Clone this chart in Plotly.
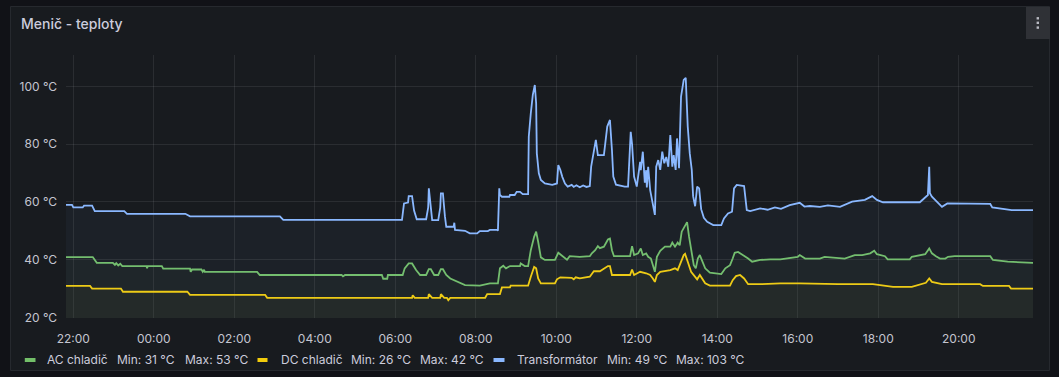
import pandas as pd
import plotly.graph_objects as go

# ---------------- data ----------------
BASE = pd.Timestamp("2024-05-14")
X_START = "2024-05-14 21:49:06"
X_END = "2024-05-15 21:50:42"

SERIES_NAMES = ["AC chladič", "DC chladič", "Transformátor"]
SERIES_COLORS = ["#73BF69", "#F2CC0C", "#8AB8FF"]
Y_TICKS = [20, 40, 60, 80, 100]
Y_TICK_TEXT = [f"{v} °C" for v in Y_TICKS]

AC_T = ["21:49", "22:29", "22:35", "22:59", "23:02", "23:04", "23:07", "23:10", "23:13", "23:49",
        "23:50", "23:51", "00:12", "00:14", "00:54", "00:55", "00:57", "01:11", "01:13", "01:15",
        "01:16", "02:34", "02:38", "04:40", "04:42", "04:45", "05:40", "05:42", "05:48", "05:49",
        "06:11", "06:14", "06:20", "06:25", "06:31", "06:37", "06:46", "06:50", "06:53", "06:58",
        "07:04", "07:08", "07:11", "07:16", "07:22", "07:33", "07:44", "08:06", "08:21", "08:33",
        "08:36", "08:41", "08:45", "08:51", "09:06", "09:07", "09:13", "09:18", "09:22", "09:27",
        "09:30", "09:33", "09:37", "09:43", "09:58", "10:03", "10:09", "10:16", "10:20", "10:35",
        "10:50", "10:53", "10:58", "11:02", "11:05", "11:11", "11:17", "11:20", "11:23", "11:26",
        "11:50", "11:53", "11:56", "12:02", "12:06", "12:09", "12:14", "12:17", "12:21", "12:24",
        "12:27", "12:30", "12:35", "12:42", "12:50", "12:53", "12:57", "13:01", "13:04", "13:07",
        "13:12", "13:15", "13:18", "13:22", "13:25", "13:28", "13:31", "13:34", "13:37", "13:42",
        "13:49", "14:06", "14:12", "14:19", "14:23", "14:26", "14:31", "14:37", "14:46", "14:52",
        "15:04", "15:19", "15:34", "16:00", "16:03", "16:11", "16:33", "16:40", "17:10", "17:25",
        "17:36", "17:48", "17:54", "17:58", "18:10", "18:14", "18:47", "18:50", "19:10", "19:16",
        "19:20", "19:26", "19:32", "19:40", "19:44", "19:54", "20:47", "20:51", "21:13", "21:51"]
AC_V = [40.9, 40.9, 38.9, 38.9, 38.2, 38.8, 38.0, 38.6, 37.8, 37.8,
        37.0, 37.8, 37.8, 36.9, 36.9, 35.8, 36.6, 36.6, 35.8, 36.5,
        35.8, 35.8, 34.7, 34.7, 34.2, 34.7, 34.7, 33.4, 33.4, 34.7,
        34.7, 37.0, 38.7, 38.7, 36.4, 34.7, 34.7, 36.7, 36.7, 34.7,
        34.7, 36.7, 36.7, 34.7, 33.5, 32.3, 31.2, 31.0, 31.8, 31.8,
        37.0, 37.9, 37.0, 37.8, 37.8, 38.7, 37.8, 37.8, 43.3, 47.9,
        49.7, 46.2, 40.8, 39.9, 39.9, 42.4, 41.2, 40.0, 41.2, 41.0,
        41.2, 42.2, 43.3, 44.7, 44.0, 44.5, 47.0, 47.3, 43.3, 41.2,
        41.2, 44.7, 41.6, 42.2, 43.9, 41.6, 42.2, 41.0, 40.4, 38.1,
        35.8, 41.0, 43.1, 44.5, 44.5, 45.9, 44.5, 45.9, 45.0, 49.7,
        52.0, 53.0, 47.9, 42.2, 38.1, 37.0, 40.4, 41.6, 39.9, 37.0,
        35.5, 35.0, 37.0, 38.1, 40.4, 42.4, 42.7, 41.9, 40.4, 39.3,
        39.9, 40.1, 40.1, 41.0, 41.6, 40.4, 40.4, 41.0, 40.4, 41.6,
        41.6, 42.2, 43.1, 41.9, 41.2, 40.1, 40.1, 41.0, 41.9, 43.9,
        42.2, 41.2, 40.4, 40.4, 41.0, 41.2, 41.2, 39.9, 39.3, 38.9]

DC_T = ["21:49", "22:25", "22:28", "23:11", "23:14", "00:50", "00:54", "02:46", "02:49", "06:25",
        "06:26", "06:29", "06:49", "06:50", "06:55", "07:07", "07:08", "07:13", "07:17", "07:19",
        "07:22", "08:14", "08:17", "08:36", "08:39", "08:51", "08:52", "09:18", "09:22", "09:27",
        "09:30", "09:33", "09:37", "09:58", "10:01", "10:06", "10:23", "10:26", "10:29", "10:35",
        "10:50", "10:56", "11:05", "11:17", "11:20", "11:23", "11:50", "11:53", "11:56", "12:05",
        "12:14", "12:20", "12:24", "12:27", "12:30", "12:35", "12:50", "12:57", "13:01", "13:06",
        "13:10", "13:12", "13:13", "13:16", "13:21", "13:25", "13:30", "13:34", "13:37", "13:42",
        "13:49", "14:19", "14:23", "14:28", "14:34", "14:40", "14:46", "15:04", "15:34", "16:03",
        "17:00", "17:52", "18:22", "18:50", "19:11", "19:16", "19:20", "19:26", "19:35", "20:32",
        "20:36", "21:15", "21:18", "21:51"]
DC_V = [30.9, 30.9, 30.0, 30.0, 28.9, 28.9, 27.8, 27.8, 26.8, 26.8,
        27.7, 26.8, 26.8, 28.1, 26.8, 26.8, 28.1, 26.8, 26.8, 26.0,
        26.8, 26.8, 28.1, 28.1, 30.4, 30.4, 31.0, 31.0, 34.1, 37.5,
        37.0, 33.5, 31.8, 31.8, 33.2, 33.9, 33.7, 33.2, 33.9, 33.5,
        34.1, 36.0, 36.0, 37.8, 37.8, 34.7, 34.7, 36.6, 34.7, 35.8,
        35.3, 34.7, 33.5, 32.3, 34.7, 35.8, 36.4, 37.0, 36.4, 39.3,
        41.6, 42.0, 41.2, 39.3, 35.8, 34.7, 33.2, 34.7, 33.5, 31.8,
        31.0, 31.0, 32.9, 34.3, 34.7, 33.5, 31.5, 31.5, 31.8, 31.8,
        31.5, 31.5, 30.6, 30.6, 32.0, 33.5, 32.3, 32.0, 31.5, 31.5,
        30.9, 30.9, 30.0, 30.0]

TR_T = ["21:49", "21:58", "22:00", "22:14", "22:16", "22:28", "22:32", "23:16", "23:20", "00:47",
        "00:54", "03:08", "03:13", "06:10", "06:13", "06:19", "06:20", "06:25", "06:28", "06:32",
        "06:46", "06:49", "06:50", "06:53", "06:55", "07:04", "07:07", "07:08", "07:11", "07:14",
        "07:16", "07:27", "07:28", "07:29", "07:44", "07:51", "08:02", "08:06", "08:18", "08:21",
        "08:32", "08:33", "08:35", "08:36", "08:39", "08:50", "08:51", "08:58", "09:01", "09:06",
        "09:10", "09:18", "09:19", "09:22", "09:25", "09:28", "09:30", "09:31", "09:34", "09:37",
        "09:43", "09:54", "10:01", "10:03", "10:06", "10:09", "10:13", "10:17", "10:23", "10:26",
        "10:30", "10:35", "10:40", "10:45", "10:50", "10:52", "10:59", "11:02", "11:11", "11:16",
        "11:20", "11:23", "11:25", "11:29", "11:42", "11:47", "11:51", "11:53", "11:56", "12:00",
        "12:05", "12:06", "12:09", "12:12", "12:14", "12:15", "12:17", "12:20", "12:23", "12:27",
        "12:29", "12:32", "12:35", "12:38", "12:41", "12:44", "12:47", "12:50", "12:53", "12:55",
        "12:58", "13:00", "13:03", "13:06", "13:10", "13:13", "13:16", "13:19", "13:22", "13:24",
        "13:27", "13:30", "13:33", "13:36", "13:40", "13:45", "13:54", "14:06", "14:10", "14:16",
        "14:22", "14:25", "14:29", "14:40", "14:44", "14:49", "15:04", "15:15", "15:26", "15:35",
        "15:48", "16:03", "16:10", "16:18", "16:33", "16:45", "17:03", "17:21", "17:40", "17:51",
        "17:58", "18:07", "19:02", "19:08", "19:14", "19:16", "19:17", "19:20", "19:25", "19:29",
        "19:35", "19:43", "20:47", "20:50", "21:19", "21:51"]
TR_V = [59.0, 59.0, 58.1, 58.1, 58.7, 58.7, 56.8, 56.8, 55.9, 55.9,
        55.0, 55.0, 53.8, 53.8, 59.5, 59.8, 62.0, 62.0, 57.0, 54.0,
        54.0, 58.0, 64.7, 58.0, 53.7, 53.7, 58.0, 63.0, 63.0, 55.0,
        51.4, 51.4, 52.8, 50.3, 50.0, 49.1, 49.1, 49.9, 49.9, 50.3,
        50.3, 50.0, 64.7, 62.4, 61.8, 61.8, 62.4, 62.4, 63.5, 63.5,
        62.7, 62.7, 82.6, 90.7, 97.1, 100.5, 94.2, 76.8, 69.9, 67.6,
        66.4, 65.9, 66.4, 72.8, 71.1, 68.7, 66.4, 65.3, 65.9, 65.2,
        65.8, 65.1, 65.7, 65.2, 65.5, 72.2, 81.5, 76.2, 76.2, 86.1,
        88.4, 78.0, 68.8, 66.0, 65.3, 65.3, 84.3, 80.0, 68.8, 65.3,
        73.9, 71.0, 77.4, 66.7, 71.0, 65.0, 72.2, 64.1, 60.7, 55.5,
        72.2, 74.5, 71.1, 77.4, 73.4, 75.6, 72.2, 83.2, 72.2, 76.2,
        71.1, 82.0, 71.7, 96.5, 102.3, 103.0, 86.1, 76.8, 71.1, 62.0,
        58.5, 65.3, 64.7, 57.5, 54.5, 53.1, 52.0, 52.0, 54.3, 56.0,
        56.6, 64.7, 65.9, 65.5, 57.2, 56.8, 57.8, 57.3, 58.1, 57.6,
        58.9, 59.7, 58.4, 58.6, 58.3, 58.8, 58.3, 60.1, 60.7, 62.0,
        60.7, 59.9, 59.9, 61.2, 62.4, 72.2, 63.0, 61.8, 60.7, 59.5,
        58.3, 59.5, 59.3, 58.1, 57.2, 57.2]

assert len(AC_T) == len(AC_V) and len(DC_T) == len(DC_V) and len(TR_T) == len(TR_V)


def to_dt(times):
    out, day, prev = [], 0, None
    for t in times:
        h, m = map(int, t.split(":"))
        mins = h * 60 + m
        if prev is not None and mins < prev:
            day += 1
        prev = mins
        out.append(BASE + pd.Timedelta(days=day, minutes=mins))
    return out


# ---------------- layout helpers (pixel -> paper) ----------------
W, H = 1059, 377
PX0, PX1, PY0, PY1 = 66, 1033, 55, 318


def px(x):
    return (x - PX0) / (PX1 - PX0)


def py(y):
    return (PY1 - y) / (PY1 - PY0)


PAGE_BG = "#111217"
PANEL_BG = "#181b1f"
BORDER = "#26292e"
GRID = "rgba(204,204,220,0.10)"
TEXT = "#ccccdc"
TICK = "#c4c5cf"
FONT = "Inter, Roboto, 'Open Sans', sans-serif"

fig = go.Figure()
fills = ["rgba(115,191,105,0.03)", "rgba(242,204,12,0.025)", "rgba(138,184,255,0.045)"]
for name, t, v, col, fc in zip(SERIES_NAMES, [AC_T, DC_T, TR_T], [AC_V, DC_V, TR_V],
                               SERIES_COLORS, fills):
    fig.add_trace(go.Scatter(
        x=to_dt(t), y=v, mode="lines", name=name,
        line=dict(color=col, width=1.8),
        fill="tozeroy", fillcolor=fc, showlegend=False))

shapes = [
    dict(type="rect", xref="paper", yref="paper", x0=px(10.5), x1=px(1049.5),
         y0=py(370.5), y1=py(6.5), fillcolor=PANEL_BG, line=dict(color=BORDER, width=1),
         layer="below"),
    dict(type="rect", xref="paper", yref="paper", x0=px(1026), x1=px(1050),
         y0=py(39), y1=py(7), fillcolor="#2f3136", line=dict(width=0), layer="above"),
]
for dy in (18.3, 22.8, 27.6):
    shapes.append(dict(type="rect", xref="paper", yref="paper", x0=px(1036.6), x1=px(1039),
                       y0=py(dy + 1.2), y1=py(dy - 1.2), fillcolor="#b9bac2",
                       line=dict(width=0), layer="above"))

annotations = [dict(text="Menič - teploty", xref="paper", yref="paper", x=px(19), y=py(24),
                    xanchor="left", yanchor="middle", showarrow=False,
                    font=dict(family=FONT, size=14, color=TEXT, weight=500))]

legend_layout = [
    (23.3, 37, 45, 114.7, 182.5),
    (256, 269, 278.7, 349, 417.8),
    (492, 506, 514.8, 604.5, 673.8),
]
LY = 359.5
for (m0, m1, xn, xmin, xmax), name, col, vals in zip(legend_layout, SERIES_NAMES, SERIES_COLORS,
                                                      [AC_V, DC_V, TR_V]):
    shapes.append(dict(type="line", xref="paper", yref="paper", x0=px(m0 + 1.5), x1=px(m1 - 1.5),
                       y0=py(LY + 0.5), y1=py(LY + 0.5), line=dict(color=col, width=4),
                       layer="above"))
    for xx, txt in [(xn, name), (xmin, f"Min: {round(min(vals))} °C"),
                    (xmax, f"Max: {round(max(vals))} °C")]:
        annotations.append(dict(text=txt, xref="paper", yref="paper", x=px(xx), y=py(LY),
                                xanchor="left", yanchor="middle", showarrow=False,
                                font=dict(family=FONT, size=12, color=TEXT)))

fig.update_layout(
    width=W, height=H,
    margin=dict(l=PX0, r=W - PX1, t=PY0, b=H - PY1, pad=0),
    paper_bgcolor=PAGE_BG, plot_bgcolor="rgba(0,0,0,0)",
    font=dict(family=FONT, size=12, color=TICK),
    showlegend=False,
    shapes=shapes, annotations=annotations,
    xaxis=dict(type="date", range=[X_START, X_END], tickformat="%H:%M",
               dtick=7200000, tick0="2024-05-14 22:00", showgrid=True, gridcolor=GRID,
               gridwidth=1, zeroline=False, showline=False, ticks="",
               ticklabelstandoff=12, tickfont=dict(family=FONT, size=12, color=TICK)),
    yaxis=dict(range=[19.8, 110.9], tickmode="array", tickvals=Y_TICKS, ticktext=Y_TICK_TEXT,
               showgrid=True, gridcolor=GRID, gridwidth=1, zeroline=False, showline=False,
               ticks="", ticklabelstandoff=8, tickfont=dict(family=FONT, size=12, color=TICK)),
)

fig.write_html(
    "out.html",
    config={"displayModeBar": False},
    post_script="document.body.style.margin='0';document.body.style.background='#111217';",
)
